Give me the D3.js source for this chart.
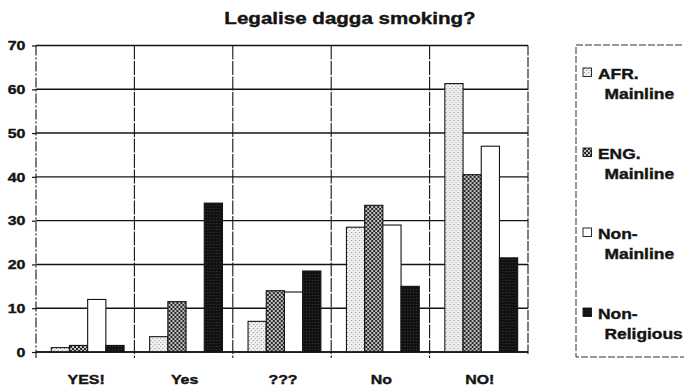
<!DOCTYPE html>
<html><head><meta charset="utf-8">
<script src="https://cdn.jsdelivr.net/npm/d3@7"></script>
<style>body{margin:0;background:#fff}svg{display:block}</style>
</head><body>
<svg id="c" width="684" height="391"></svg>
<script>
const categories = ["YES!", "Yes", "???", "No", "NO!"];
const seriesNames = ["AFR. Mainline", "ENG. Mainline", "Non-Mainline", "Non-Religious"];
const afrMainline = [1, 3.5, 7, 28.5, 61.3];
const engMainline = [1.5, 11.5, 14, 33.5, 40.5];
const nonMainline = [12, 0, 13.7, 29, 47];
const nonReligious = [1.5, 34, 18.5, 15, 21.5];
const yTicks = [0, 10, 20, 30, 40, 50, 60, 70];
const legendLines = [["AFR.", "Mainline"], ["ENG.", "Mainline"], ["Non-", "Mainline"], ["Non-", "Religious"]];
const titleText = "Legalise dagga smoking?";

(function () {
const series = [afrMainline, engMainline, nonMainline, nonReligious];
const fills = ["url(#pAfr)", "url(#pEng)", "#ffffff", "url(#pNon)"];
const ink = "#141414";
const SX = 1.18;

const svg = d3.select("#c");
const defs = svg.append("defs");
let p = defs.append("pattern").attr("id", "pAfr").attr("patternUnits", "userSpaceOnUse").attr("width", 4).attr("height", 4);
p.append("rect").attr("width", 4).attr("height", 4).attr("fill", "#f0f0f0");
p.append("rect").attr("x", 0).attr("y", 0).attr("width", 1).attr("height", 1).attr("fill", "#888");
p.append("rect").attr("x", 2).attr("y", 2).attr("width", 1).attr("height", 1).attr("fill", "#a4a4a4");
p = defs.append("pattern").attr("id", "pEng").attr("patternUnits", "userSpaceOnUse").attr("width", 4).attr("height", 4);
p.append("rect").attr("width", 4).attr("height", 4).attr("fill", "#c0c0c0");
p.append("rect").attr("x", 0).attr("y", 0).attr("width", 2).attr("height", 2).attr("fill", "#2a2a2a");
p.append("rect").attr("x", 2).attr("y", 2).attr("width", 2).attr("height", 2).attr("fill", "#2a2a2a");
p = defs.append("pattern").attr("id", "pNon").attr("patternUnits", "userSpaceOnUse").attr("width", 3).attr("height", 3);
p.append("rect").attr("width", 3).attr("height", 3).attr("fill", "#111");
p.append("rect").attr("x", 1).attr("y", 1).attr("width", 1).attr("height", 1).attr("fill", "#3a3a3a");

const pLeft = 36, pRight = 528, pTop = 45.5, pBottom = 352;
const x0 = d3.scaleBand().domain(categories).range([pLeft, pRight]).paddingInner(0).paddingOuter(0);
const bw = x0.bandwidth();
const x1 = d3.scaleBand().domain(seriesNames).range([bw * 0.155, bw * 0.895]).padding(0);
const y = d3.scaleLinear().domain([0, 70]).range([pBottom, pTop]);
const font = "Liberation Sans, Arial, sans-serif";
const heavy = sel => sel.attr("font-family", font).attr("font-weight", "bold").attr("fill", ink)
  .attr("stroke", ink).attr("stroke-width", 0.4);

heavy(svg.append("text").attr("transform", `translate(350,24) scale(1.21,1)`)
  .attr("text-anchor", "middle").attr("font-size", 17).text(titleText));

svg.append("g").selectAll("line").data(yTicks).join("line")
  .attr("x1", pLeft).attr("x2", pRight).attr("y1", d => y(d)).attr("y2", d => y(d))
  .attr("stroke", ink).attr("stroke-width", 1.4);

const divs = categories.slice(1).map(c => x0(c));
svg.append("g").selectAll("line").data(divs).join("line")
  .attr("x1", d => d).attr("x2", d => d).attr("y1", pTop).attr("y2", pBottom + 6)
  .attr("stroke", ink).attr("stroke-width", 1.1).attr("stroke-dasharray", "14,1.5");
svg.append("line").attr("x1", pRight).attr("x2", pRight).attr("y1", pTop).attr("y2", pBottom + 2)
  .attr("stroke", ink).attr("stroke-width", 1.1).attr("stroke-dasharray", "10,1.5");

const groups = svg.append("g").selectAll("g").data(categories).join("g")
  .attr("transform", d => `translate(${x0(d)},0)`);
groups.selectAll("rect").data((c, i) => seriesNames.map((s, j) => ({ s, v: series[j][i], j })))
  .join("rect")
  .attr("x", d => x1(d.s)).attr("width", x1.bandwidth())
  .attr("y", d => y(d.v)).attr("height", d => pBottom - y(d.v))
  .attr("fill", d => fills[d.j]).attr("stroke", d => d.v > 0 ? ink : "none").attr("stroke-width", 1.1);

svg.append("line").attr("x1", pLeft).attr("x2", pRight).attr("y1", pBottom).attr("y2", pBottom)
  .attr("stroke", ink).attr("stroke-width", 1.5);

const yAxis = svg.append("g").attr("transform", `translate(${pLeft},0)`)
  .call(d3.axisLeft(y).tickValues(yTicks).tickSize(4).tickPadding(5).tickFormat(d3.format("d")));
yAxis.select(".domain").attr("stroke", ink).attr("stroke-width", 1.1).attr("stroke-dasharray", "10,2,2,2")
  .attr("d", `M0,${pTop}V${pBottom + 6}`);
yAxis.selectAll(".tick line").attr("stroke", ink).attr("stroke-width", 1.2);
heavy(yAxis.selectAll(".tick text")).attr("font-size", 13.5)
  .attr("transform", `scale(${SX},1)`);

const xAxis = svg.append("g").attr("transform", `translate(1,${pBottom})`)
  .call(d3.axisBottom(x0).tickSize(0).tickPadding(22));
xAxis.select(".domain").remove();
heavy(xAxis.selectAll(".tick text")).attr("font-size", 13.5)
  .attr("transform", `scale(${SX},1)`);

const lg = svg.append("g");
lg.append("path").attr("d", "M700,45H576V357H700").attr("fill", "none")
  .attr("stroke", "#333").attr("stroke-width", 1).attr("stroke-dasharray", "7,2");
const base0 = 79, step = 80;
legendLines.forEach((lines, i) => {
  const b = base0 + i * step;
  lg.append("rect").attr("x", 583).attr("y", b - 11).attr("width", 8.5).attr("height", 8.5)
    .attr("fill", fills[i]).attr("stroke", ink).attr("stroke-width", 0.9);
  heavy(lg.append("text").attr("transform", `translate(598,${b}) scale(1.16,1)`)
    .attr("font-size", 15).text(lines[0]));
  heavy(lg.append("text").attr("transform", `translate(604.5,${b + 20}) scale(1.16,1)`)
    .attr("font-size", 15).text(lines[1]));
});
})();
</script>
</body></html>
